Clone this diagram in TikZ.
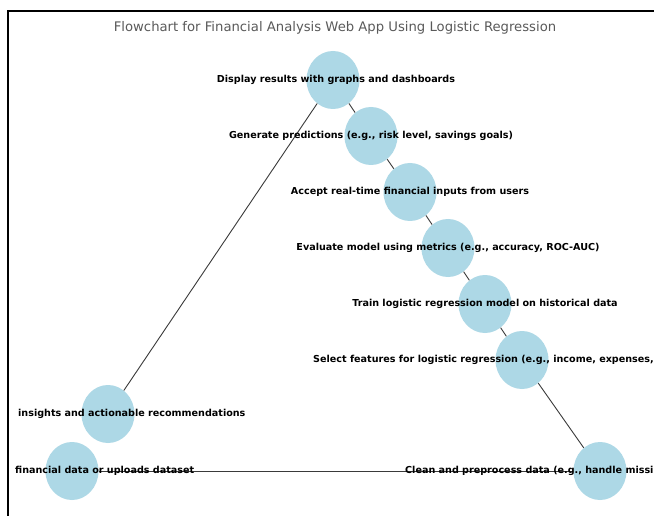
\documentclass[tikz,border=0pt]{standalone}
\usepackage{fontspec}
\setmainfont{DejaVu Sans}
\usetikzlibrary{shapes.geometric}
\definecolor{nodeblue}{HTML}{ADD8E6}
\definecolor{edgegray}{HTML}{3A3A3A}
\definecolor{titlegray}{HTML}{5A5A5A}
\tikzset{
  stage/.style={ellipse, fill=nodeblue, draw=none, minimum width=53pt, minimum height=58pt, inner sep=0pt},
  link/.style={draw=edgegray, line width=0.9pt},
  caption/.style={inner sep=0pt, font=\bfseries\fontsize{9.6}{11}\selectfont, text=black},
  heading/.style={inner sep=0pt, font=\fontsize{13.2}{15}\selectfont, text=titlegray}
}
\begin{document}
\begin{tikzpicture}[x=1pt, y=-1pt]
  \useasboundingbox (0,0) rectangle (654,516);
  \fill[white] (0,0) rectangle (654,516);
  % frame of the plot area (open to the right and bottom)
  \draw[line width=2pt, line cap=rect] (8,516) -- (8,11) -- (654,11);

  \node[heading] (title) at (335,28) {Flowchart for Financial Analysis Web App Using Logistic Regression};

  % process stages
  \node[stage] (display) at (333,80) {};
  \node[stage] (predict) at (371,136) {};
  \node[stage] (accept)  at (410,192) {};
  \node[stage] (evaluate) at (448,248) {};
  \node[stage] (train)   at (485,304) {};
  \node[stage] (select)  at (522,360) {};
  \node[stage] (clean)   at (600,471) {};
  \node[stage] (upload)  at (72,471) {};
  \node[stage] (insight) at (108,414) {};

  % connections
  \draw[link] (upload) -- (clean);
  \draw[link] (clean) -- (select);
  \draw[link] (select) -- (train);
  \draw[link] (train) -- (evaluate);
  \draw[link] (evaluate) -- (accept);
  \draw[link] (accept) -- (predict);
  \draw[link] (predict) -- (display);
  \draw[link] (display) -- (insight);

  % stage texts
  \node[caption] (tdisplay) at (336,80) {Display results with graphs and dashboards};
  \node[caption] (tpredict) at (predict) {Generate predictions (e.g., risk level, savings goals)};
  \node[caption] (taccept) at (accept) {Accept real-time financial inputs from users};
  \node[caption] (tevaluate) at (evaluate) {Evaluate model using metrics (e.g., accuracy, ROC-AUC)};
  \node[caption] (ttrain) at (train) {Train logistic regression model on historical data};
  \node[caption, anchor=east] (tselect) at (654,360) {Select features for logistic regression (e.g., income, expenses,};
  \node[caption, anchor=west] (tclean) at (405,471) {Clean and preprocess data (e.g., handle missi};
  \node[caption, anchor=west] (tupload) at (15,471) {financial data or uploads dataset};
  \node[caption, anchor=west] (tinsight) at (18,414) {insights and actionable recommendations};
\end{tikzpicture}
\end{document}
